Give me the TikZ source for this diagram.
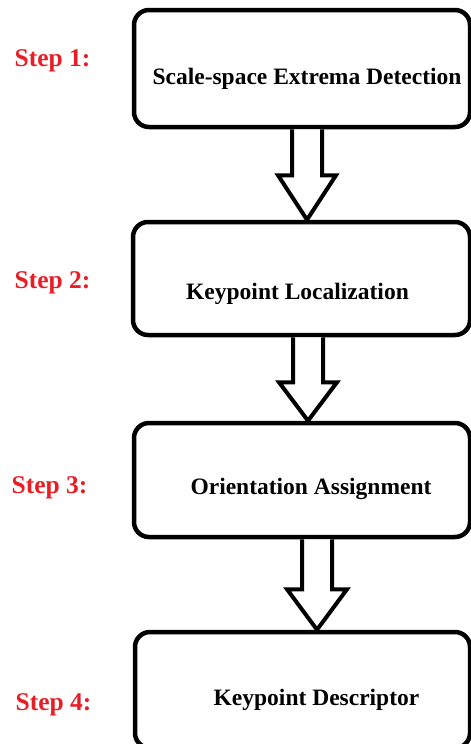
\documentclass[tikz,border=0pt]{standalone}
\usepackage{fontspec}
\setmainfont{Liberation Serif}
\usetikzlibrary{calc}

\definecolor{stepred}{RGB}{232,30,38}
\tikzset{
  stepbox/.style={draw=black, line width=4.5pt, rounded corners=15pt, fill=white},
  boxtext/.style={font=\fontsize{23.5}{27}\selectfont\bfseries, text=black},
  steptext/.style={font=\fontsize{25.5}{29}\selectfont\bfseries, text=stepred},
  hollow/.style={draw=black, line width=4pt, fill=white, line join=miter}
}

\begin{document}
\begin{tikzpicture}[x=1pt, y=-1pt]
  \useasboundingbox (0,0) rectangle (471,744);
  \clip (0,0) rectangle (471,744);

  % Boxes
  \node[stepbox, minimum width=336pt, minimum height=117pt] (b1) at (302,68.5) {};
  \node[stepbox, minimum width=337pt, minimum height=113pt] (b2) at (301.5,278.5) {};
  \node[stepbox, minimum width=336pt, minimum height=114pt] (b3) at (302,480) {};
  \node[stepbox, minimum width=335pt, minimum height=116pt] (b4) at (302.5,690) {};

  % Box texts
  \node[boxtext] (t1) at ($(b1.center)+(5,10)$) {Scale-space Extrema Detection};
  \node[boxtext] (t2) at ($(b2.center)+(-4,15)$) {Keypoint Localization};
  \node[boxtext] (t3) at ($(b3.center)+(9,9)$) {Orientation Assignment};
  \node[boxtext] (t4) at ($(b4.center)+(14,10)$) {Keypoint Descriptor};

  % Step labels
  \node[steptext] (s1) at (52.5,61) {Step 1:};
  \node[steptext] (s2) at (52.5,283) {Step 2:};
  \node[steptext] (s3) at (49.5,488) {Step 3:};
  \node[steptext] (s4) at (53.5,705) {Step 4:};

  % Block arrows
  \coordinate (a1) at ($(b1.south)+(5,0)$);
  \coordinate (a2) at ($(b2.south)+(6.5,0)$);
  \coordinate (a3) at ($(b3.south)+(15,0)$);
  \draw[hollow] ($(a1)+(-15,0)$) -- ($(a1)+(-15,46)$) -- ($(a1)+(-29,46)$)
    -- ($(b2.north)+(5.5,0)$) -- ($(a1)+(29,46)$) -- ($(a1)+(15,46)$) -- ($(a1)+(15,0)$);
  \draw[hollow] ($(a2)+(-15,0)$) -- ($(a2)+(-15,45)$) -- ($(a2)+(-29,45)$)
    -- ($(b3.north)+(6,0)$) -- ($(a2)+(29,45)$) -- ($(a2)+(15,45)$) -- ($(a2)+(15,0)$);
  \draw[hollow] ($(a3)+(-15,0)$) -- ($(a3)+(-15,50)$) -- ($(a3)+(-30,50)$)
    -- ($(b4.north)+(14.5,0)$) -- ($(a3)+(30,50)$) -- ($(a3)+(15,50)$) -- ($(a3)+(15,0)$);
\end{tikzpicture}
\end{document}
